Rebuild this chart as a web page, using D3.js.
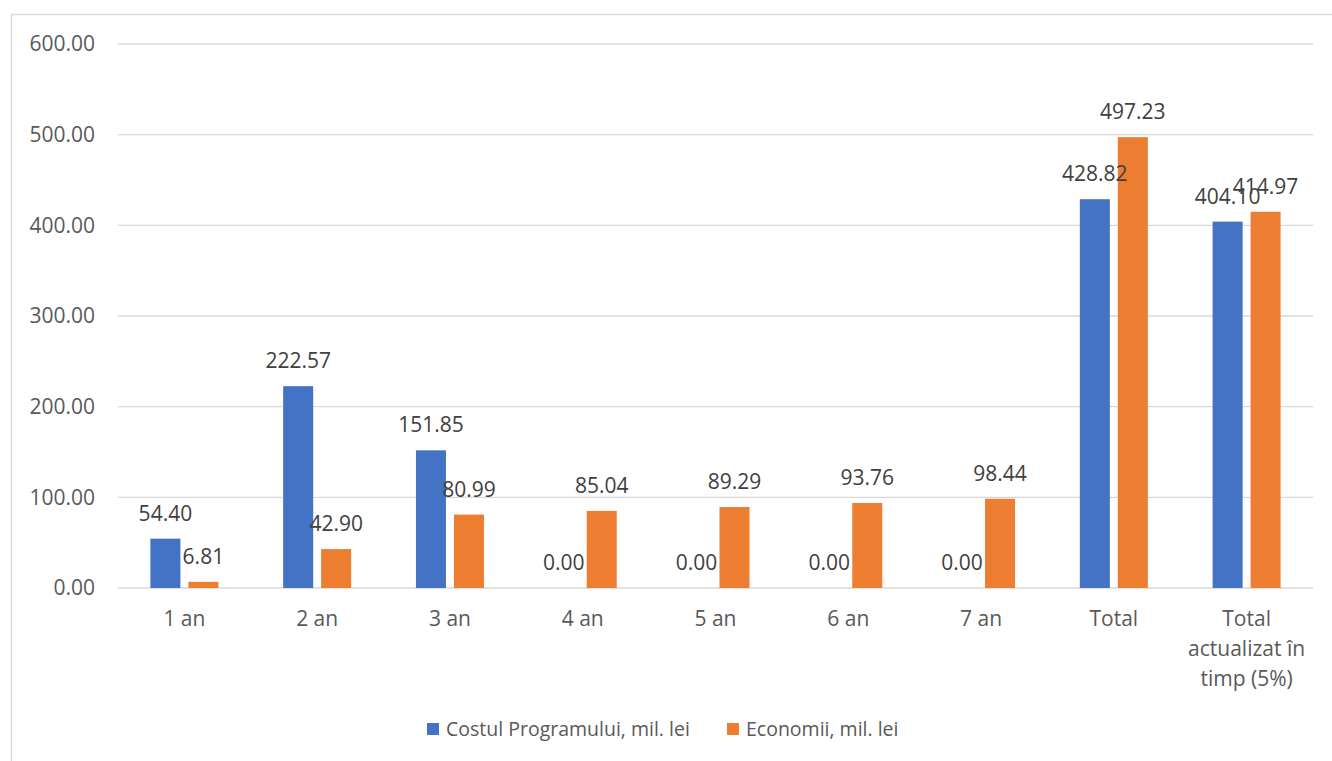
<!DOCTYPE html>
<html>
<head>
<meta charset="utf-8">
<script src="https://cdn.jsdelivr.net/npm/d3@7"></script>
<style>
  body { margin: 0; background: #fff; }
  text { font-family: "Open Sans", "Noto Sans", sans-serif; }
</style>
</head>
<body>
<div id="chart"></div>
<script>
// Chart data
const categories = ["1 an", "2 an", "3 an", "4 an", "5 an", "6 an", "7 an", "Total", "Total actualizat în timp (5%)"];
const costValues = [54.40, 222.57, 151.85, 0.00, 0.00, 0.00, 0.00, 428.82, 404.10];
const savingValues = [6.81, 42.90, 80.99, 85.04, 89.29, 93.76, 98.44, 497.23, 414.97];
const seriesNames = ["Costul Programului, mil. lei", "Economii, mil. lei"];
const seriesColors = ["#4472C4", "#ED7D31"];
const yTicks = [0, 100, 200, 300, 400, 500, 600];

const W = 1332, H = 761;
let margin = {top: 44, right: 19, bottom: 173, left: 118};
let width = W - margin.left - margin.right;
let height = H - margin.top - margin.bottom;

let root = d3.select("#chart")
    .append("svg")
    .attr("width", W)
    .attr("height", H);

// Outer chart border
root.append("rect")
    .attr("x", 11.5).attr("y", 14.5)
    .attr("width", W).attr("height", H)
    .attr("fill", "none")
    .attr("stroke", "#d9d9d9")
    .attr("stroke-width", 1.5);

let svg = root.append("g")
    .attr("transform", `translate(${margin.left}, ${margin.top})`);

const x0 = d3.scaleBand().domain(categories).range([0, width]).padding(0);
const groupW = 68;
const x1 = d3.scaleBand().domain(seriesNames).range([0, groupW]).paddingInner(0.21);
const y = d3.scaleLinear().domain([0, 600]).range([height, 0]);

// Gridlines
svg.append("g")
    .selectAll("line")
    .data(yTicks)
    .enter()
    .append("line")
    .attr("x1", 0).attr("x2", width)
    .attr("y1", d => y(d)).attr("y2", d => y(d))
    .attr("stroke", "#d9d9d9")
    .attr("stroke-width", 1.3);

// Y axis labels
svg.append("g")
    .call(d3.axisLeft(y).tickValues(yTicks).tickFormat(d3.format(".2f")).tickSize(0).tickPadding(23))
    .call(g => g.select(".domain").remove())
    .selectAll("text")
    .style("font-family", "'Open Sans', 'Noto Sans', sans-serif")
    .style("font-size", "21px")
    .style("fill", "#595959");

// X axis labels (wrapped)
const xLabels = {"Total actualizat în timp (5%)": ["Total", "actualizat în", "timp (5%)"]};
const xg = svg.append("g").attr("transform", `translate(0, ${height})`);
categories.forEach(c => {
    const lines = xLabels[c] || [c];
    const t = xg.append("text")
        .attr("x", x0(c) + x0.bandwidth() / 2)
        .attr("y", 38)
        .attr("text-anchor", "middle")
        .style("font-size", "21px")
        .style("fill", "#595959");
    lines.forEach((l, i) => {
        t.append("tspan")
            .attr("x", x0(c) + x0.bandwidth() / 2)
            .attr("dy", i === 0 ? 0 : 30)
            .text(l);
    });
});

// Bars
const rows = categories.map((c, i) => ({cat: c, vals: [costValues[i], savingValues[i]]}));
const groups = svg.selectAll(".grp")
    .data(rows)
    .enter()
    .append("g")
    .attr("class", "grp")
    .attr("transform", d => `translate(${x0(d.cat) + (x0.bandwidth() - groupW) / 2}, 0)`);

groups.selectAll("rect")
    .data(d => d.vals.map((v, k) => ({name: seriesNames[k], v: v, k: k})))
    .enter()
    .append("rect")
    .attr("x", d => x1(d.name))
    .attr("y", d => y(d.v))
    .attr("width", x1.bandwidth())
    .attr("height", d => height - y(d.v))
    .attr("fill", d => seriesColors[d.k]);

// Data labels
groups.selectAll(".bar-label")
    .data(d => d.vals.map((v, k) => ({name: seriesNames[k], v: v, k: k})))
    .enter()
    .append("text")
    .attr("class", "bar-label")
    .attr("x", d => x1(d.name) + x1.bandwidth() / 2)
    .attr("y", d => y(d.v) - 18)
    .attr("text-anchor", "middle")
    .style("font-size", "21px")
    .style("fill", "#404040")
    .text(d => d.v.toFixed(2));

// Legend
const legend = root.append("g").attr("transform", "translate(427, 723)");
const legendX = [0, 300];
seriesNames.forEach((s, i) => {
    legend.append("rect")
        .attr("x", legendX[i]).attr("y", 0)
        .attr("width", 12).attr("height", 12)
        .attr("fill", seriesColors[i]);
    legend.append("text")
        .attr("x", legendX[i] + 19).attr("y", 6)
        .attr("dy", "0.35em")
        .style("font-size", "19.5px")
        .style("fill", "#595959")
        .text(s);
});
</script>
</body>
</html>
